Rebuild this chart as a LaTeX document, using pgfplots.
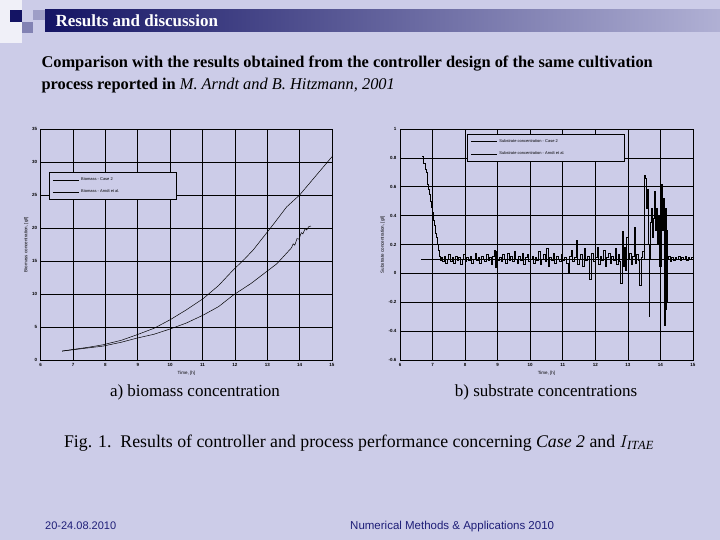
\documentclass[border=0pt]{standalone}
\usepackage{fontspec}
\setmainfont{Liberation Serif}
\setsansfont{Liberation Sans}
\usepackage{pgfplots}
\pgfplotsset{compat=1.18}
\definecolor{slidebg}{RGB}{204,204,232}
\definecolor{navy}{RGB}{20,20,100}
\definecolor{footblue}{RGB}{30,30,120}
\pgfplotsset{
  slideaxis/.style={
    scale only axis,
    xmin=6, xmax=15, xtick={6,...,15},
    grid=major,
    grid style={black, line width=0.7pt},
    axis line style={black, line width=0.8pt},
    tick style={draw=none},
    ticklabel style={font=\fontsize{4.5}{5}\sffamily\bfseries},
    /pgf/number format/assume math mode=true,
    xlabel={Time, [h]},
    label style={font=\fontsize{4.5}{5}\sffamily},
    xlabel style={yshift=2pt},
    ylabel style={yshift=-3pt},
    legend cell align=left,
    legend style={draw=black, line width=0.6pt, fill=slidebg, font=\fontsize{4}{5}\sffamily,
      row sep=4pt, inner sep=3pt},
    legend image code/.code={\draw[#1] (0pt,0pt) -- (26pt,0pt);},
  }
}
\begin{document}
\begin{tikzpicture}
\begin{scope}[x=1pt,y=1pt]
% slide background
\fill[slidebg] (0,0) rectangle (720,540);
% decoration squares
\fill[white!70!slidebg] (0,540) rectangle (22,497);
\fill[navy] (10,530) rectangle (22,518);
\fill[slidebg!60!navy] (22,518) rectangle (33,507);
\fill[slidebg!75!navy] (33,530) rectangle (45,520);
% title bar
\shade[left color=navy, right color=slidebg!85!navy] (45,530) rectangle (720,508);
\node[anchor=west, text=white, font=\fontsize{17}{19}\selectfont\bfseries] at (52,519.5) {Results and discussion};
% subtitle
\node[anchor=west, font=\fontsize{16.4}{18}\selectfont\bfseries] at (38,476) {Comparison with the results obtained from the controller design of the same cultivation};
\node[anchor=west, font=\fontsize{16.4}{18}\selectfont] at (38,454) {\textbf{process reported in} \textit{M. Arndt and B. Hitzmann, 2001}};
% captions
\node[font=\fontsize{17}{19}\selectfont] at (195,148) {a) biomass concentration};
\node[font=\fontsize{17}{19}\selectfont] at (546,148) {b) substrate concentrations};
\node[font=\fontsize{17.8}{20}\selectfont] at (359,97) {Fig. 1.\ \ Results of controller and process performance concerning \textit{Case 2} and $I_{\mathit{ITAE}}$};
% footer
\node[anchor=base west, inner sep=0pt, text=footblue, font=\fontsize{11}{13}\sffamily] at (45,10) {20-24.08.2010};
\node[anchor=base west, inner sep=0pt, text=footblue, font=\fontsize{11.5}{13}\sffamily] at (350,10) {Numerical Methods \& Applications 2010};
\end{scope}

% left axis: biomass
\begin{axis}[slideaxis,
  at={(40.7pt,180pt)}, anchor=south west,
  width=291.3pt, height=231pt,
  ymin=0, ymax=35, ytick={0,5,...,35},
  ylabel={Biomass concentration, [g/l]},
  legend style={at={(0.03,0.8125)}, anchor=north west},
]
\addplot[black, line width=0.5pt] coordinates {
(6.66,1.35)(7.0,1.6)(7.5,1.95)(7.92,2.3)(8.5,3.0)(8.96,3.8)(9.5,4.8)(10.0,6.1)
(10.5,7.6)(11.02,9.3)(11.5,11.3)(11.94,13.6)(12.3,15.3)(12.57,16.7)(13.18,20.5)
(13.6,23.2)(14.0,25.0)(14.5,27.9)(15.0,30.8)};
\addlegendentry{\makebox[90pt][l]{Biomass - Case 2}}
\addplot[black, line width=0.5pt] coordinates {
(6.66,1.35)(7.0,1.55)(7.5,1.85)(7.92,2.1)(8.5,2.7)(8.96,3.3)(9.5,3.9)(10.0,4.7)
(10.5,5.6)(11.02,6.8)(11.5,8.1)(11.94,9.8)(12.5,11.6)(12.98,13.4)(13.3,14.6)
(13.6,16.2)(13.75,17.0)(13.8,17.6)(13.85,17.4)(13.92,18.4)(13.98,18.3)(14.05,19.3)
(14.1,19.1)(14.17,19.9)(14.22,19.7)(14.28,20.2)(14.35,20.3)};
\addlegendentry{\makebox[90pt][l]{Biomass - Arndt et al.}}
\end{axis}

% right axis: substrate
\begin{axis}[slideaxis,
  at={(400pt,180pt)}, anchor=south west,
  width=293pt, height=231pt,
  ymin=-0.6, ymax=1, ytick={-0.6,-0.4,...,1.01},
  yticklabel style={/pgf/number format/fixed, /pgf/number format/precision=1},
  ylabel={Substrate concentration, [g/l]},
  legend style={at={(0.23,0.977)}, anchor=north west},
]
\addplot[black, line width=0.7pt, const plot] coordinates {
(6.69,0.81)(6.71,0.81)(6.72,0.76)(6.75,0.76)(6.77,0.72)(6.80,0.70)(6.83,0.65)(6.85,0.62)
(6.87,0.58)(6.90,0.55)(6.93,0.50)(6.96,0.46)(6.99,0.42)(7.02,0.37)(7.05,0.33)(7.08,0.28)
(7.11,0.25)(7.14,0.20)(7.17,0.16)(7.20,0.12)(7.23,0.09)(7.26,0.11)
(7.30,0.08)(7.35,0.12)(7.40,0.07)(7.45,0.10)(7.50,0.13)(7.55,0.08)(7.60,0.11)(7.65,0.07)
(7.70,0.12)(7.75,0.09)(7.80,0.11)(7.85,0.06)(7.90,0.10)(7.95,0.13)(8.00,0.08)(8.05,0.11)
(8.10,0.09)(8.15,0.12)(8.20,0.07)(8.25,0.10)(8.30,0.14)(8.35,0.09)(8.40,0.11)(8.45,0.07)
(8.50,0.12)(8.55,0.10)(8.60,0.08)(8.65,0.13)(8.70,0.09)(8.75,0.11)(8.80,0.06)(8.85,0.12)
(8.90,0.16)(8.93,0.04)(8.96,0.15)(9.00,0.09)(9.05,0.11)(9.10,0.08)(9.15,0.13)(9.20,0.10)
(9.25,0.07)(9.30,0.14)(9.35,0.09)(9.40,0.12)(9.45,0.08)(9.50,0.15)(9.55,0.10)(9.60,0.07)
(9.65,0.12)(9.70,0.09)(9.75,0.14)(9.80,0.06)(9.85,0.11)(9.90,0.13)(9.95,0.08)(10.00,0.10)
(10.05,0.12)(10.10,0.07)(10.15,0.11)(10.20,0.09)(10.25,0.15)(10.30,0.06)(10.35,0.10)
(10.40,0.13)(10.45,0.08)(10.50,0.17)(10.55,0.05)(10.60,0.11)(10.65,0.09)(10.70,0.14)
(10.75,0.07)(10.80,0.12)(10.85,0.10)(10.90,0.08)(10.95,0.13)(11.00,0.09)(11.05,0.11)
(11.10,0.07)(11.16,0.00)(11.20,0.12)(11.25,0.16)(11.30,0.08)(11.35,0.11)(11.42,0.23)
(11.45,0.06)(11.50,0.10)(11.55,0.13)(11.60,0.05)(11.65,0.17)(11.70,0.09)(11.75,0.12)
(11.83,-0.04)(11.88,0.14)(11.93,0.08)(12.00,0.11)(12.05,0.18)(12.10,0.06)(12.15,0.12)
(12.20,0.09)(12.25,0.16)(12.30,0.05)(12.35,0.11)(12.40,0.14)(12.45,0.07)(12.50,0.12)
(12.55,0.09)(12.60,0.17)(12.65,0.06)(12.70,0.13)(12.75,0.08)(12.78,-0.07)(12.82,0.22)
(12.84,0.29)(12.87,0.05)(12.90,0.18)(12.93,0.02)(12.96,0.25)(13.00,0.10)(13.05,0.14)
(13.10,0.06)(13.15,0.12)(13.20,0.32)(13.23,0.07)(13.27,0.13)(13.32,0.09)(13.36,-0.08)
(13.40,0.11)(13.45,0.15)(13.50,0.10)(13.52,0.68)(13.55,0.66)(13.57,0.45)(13.60,0.58)
(13.63,0.20)(13.65,-0.30)(13.67,0.10)(13.70,0.35)(13.73,0.45)(13.76,0.25)(13.79,0.38)
(13.82,0.57)(13.85,0.30)(13.88,0.45)(13.91,0.20)(13.94,0.40)(13.97,0.05)(14.03,0.62)
(14.06,0.30)(14.09,0.52)(14.12,0.15)(14.13,-0.36)(14.15,0.45)(14.17,-0.25)(14.18,0.40)
(14.19,-0.20)(14.20,0.30)(14.22,0.10)(14.25,0.12)(14.30,0.08)(14.35,0.11)(14.40,0.09)
(14.45,0.11)(14.50,0.10)(14.55,0.12)(14.60,0.09)(14.65,0.11)(14.70,0.10)(14.75,0.12)
(14.80,0.09)(14.85,0.11)(14.90,0.10)(14.95,0.11)(15.00,0.10)};
\addlegendentry{\makebox[120pt][l]{Substrate concentration - Case 2}}
\addplot[black, line width=0.5pt] coordinates {(6.66,0.095)(15,0.095)};
\addlegendentry{\makebox[120pt][l]{Substrate concentration - Arndt et al.}}
\end{axis}
\end{tikzpicture}
\end{document}
